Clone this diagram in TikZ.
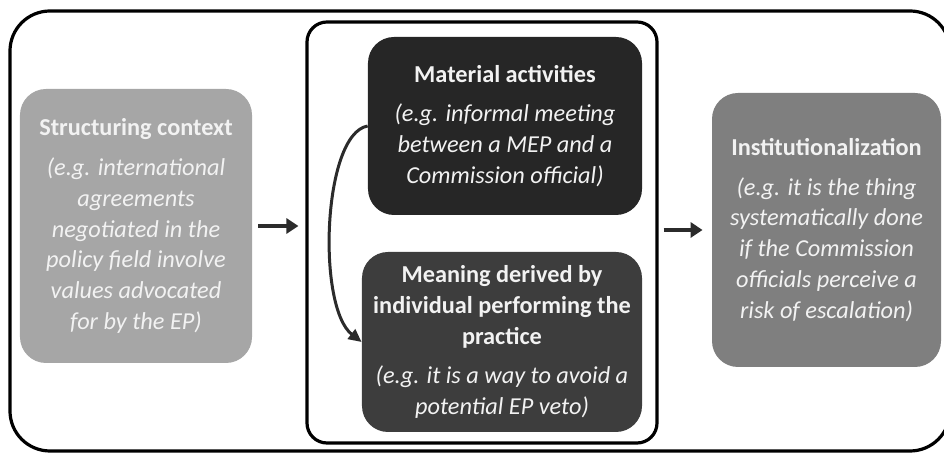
\documentclass[tikz,border=0pt]{standalone}
\usepackage{fontspec}
\setmainfont{Carlito}
\usetikzlibrary{arrows.meta}
\definecolor{ctxgray}{HTML}{A6A6A6}
\definecolor{actgray}{HTML}{262626}
\definecolor{meangray}{HTML}{3D3D3D}
\definecolor{instgray}{HTML}{7F7F7F}
\definecolor{arrowgray}{HTML}{2B2B2B}
\newcommand{\boxtitle}[1]{\textbf{\upshape #1}}

\begin{document}
\begin{tikzpicture}[x=0.5bp,y=-0.5bp,
  box/.style={rounded corners=13bp,text=white!95!black,align=center,inner sep=0pt,
    font=\fontsize{12.2}{15.5}\selectfont\itshape},
  frame/.style={draw=black,line width=1.6bp},
  flow/.style={-{Triangle[length=6bp,width=7.5bp]},line width=2.2bp,draw=arrowgray},
  curvedarrow/.style={-{Triangle[length=6.5bp,width=6bp]},line width=1.5bp,draw=arrowgray}]
\useasboundingbox (0,0) rectangle (944,453);
\node[frame,rounded corners=20bp,minimum width=470bp,minimum height=220bp] (outer) at (480,231) {};
\node[frame,rounded corners=10bp,minimum width=175bp,minimum height=210.5bp] (inner) at (482,232.5) {};

\node[box,fill=ctxgray,minimum width=116bp,minimum height=137bp] (context) at (136,226)
  {\boxtitle{Structuring context}\\[4.5bp](e.g. international\\agreements\\negotiated in the\\policy field involve\\values advocated\\for by the EP)};
\node[box,fill=actgray,minimum width=137bp,minimum height=89bp] (activities) at (505,126)
  {\boxtitle{Material activities}\\[4.5bp](e.g. informal meeting\\between a MEP and a\\Commission official)};
\node[box,fill=meangray,minimum width=140bp,minimum height=90bp] (meaning) at (502,342)
  {\boxtitle{Meaning derived by}\\\boxtitle{individual performing the}\\\boxtitle{practice}\\[4.5bp](e.g. it is a way to avoid a\\potential EP veto)};
\node[box,fill=instgray,minimum width=114.5bp,minimum height=137bp] (institution) at (826.5,230)
  {\boxtitle{Institutionalization}\\[4.5bp](e.g. it is the thing\\systematically done\\if the Commission\\officials perceive a\\risk of escalation)};

\draw[flow,shorten <=3bp,shorten >=3.5bp] (context.east) -- (context.east -| inner.west);
\draw[flow,shorten <=2.5bp,shorten >=4.5bp] (inner.east |- institution.west) -- (institution.west);
\draw[curvedarrow] (activities.west) .. controls +(-45,8) and +(-45,-35) .. (meaning.west);
\end{tikzpicture}
\end{document}
